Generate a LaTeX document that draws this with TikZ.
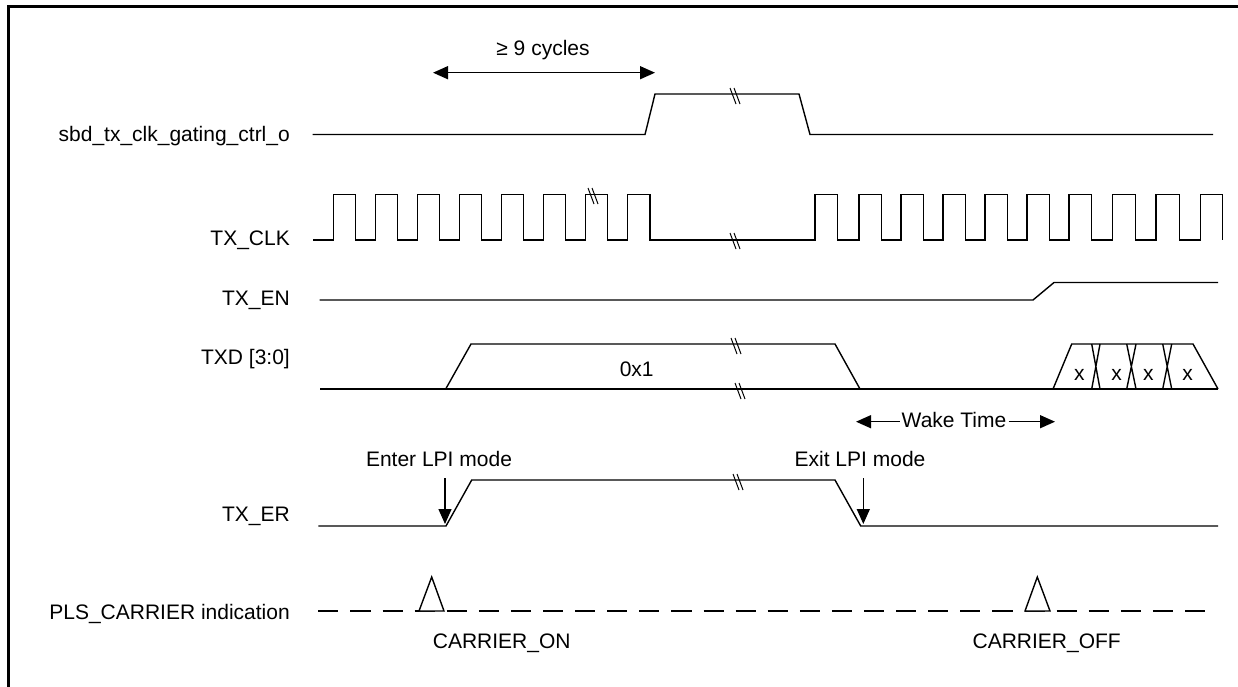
\documentclass[tikz,border=0pt]{standalone}
\usepackage{fontspec}
\setmainfont{Liberation Sans}
\usetikzlibrary{arrows.meta}
\begin{document}
\begin{tikzpicture}[x=1pt,y=-1pt,
  sig/.style={line width=1.4pt, line join=miter},
  lbl/.style={anchor=base east, inner sep=0pt, font=\fontsize{21}{25}\selectfont},
  txt/.style={anchor=base, inner sep=0pt, font=\fontsize{21}{25}\selectfont},
  tip/.style={Triangle[length=15pt,width=13pt]},
  arr/.style={line width=1.4pt, -{Triangle[length=15pt,width=13pt]}},
  brkmark/.pic={\draw[line width=1pt] (-5,-8) -- (1,8); \draw[line width=1pt] (-1,-8) -- (5,8);}
]
\useasboundingbox (0,0) rectangle (1238,686);
% frame
\draw[line width=2.5pt, line join=miter] (8.3,700) -- (8.3,6.5) -- (1250,6.5);

% labels
\node[lbl] (lsbd) at (290,141) {sbd\_tx\_clk\_gating\_ctrl\_o};
\node[lbl] (lclk) at (290,245) {TX\_CLK};
\node[lbl] (len)  at (290,305) {TX\_EN};
\node[lbl] (ltxd) at (290,364) {TXD [3:0]};
\node[lbl] (ler)  at (290,521) {TX\_ER};
\node[lbl] (lpls) at (290,619) {PLS\_CARRIER indication};

% >= 9 cycles
\node[txt] (cyc) at (543,55) {≥ 9 cycles};
\coordinate (c1) at (433,72.7);
\coordinate (c2) at (655,72.7);
\draw[line width=1.4pt, {Triangle[length=15pt,width=13pt]}-{Triangle[length=15pt,width=13pt]}] (c1) -- (c2);

% sbd_tx_clk_gating_ctrl_o
\draw[sig] (312.5,134.5) -- (645,134.5) -- (655,94) -- (799,94) -- (810,134.5) -- (1213,134.5);
\pic at (735,96) {brkmark};

% TX_CLK
\draw[sig] (313,240)
  foreach \a/\b in {333.3/355.7, 375.3/397.3, 417.3/439.3, 459.3/481.7, 501.3/523.7,
                    543.3/565.7, 585.7/607.3, 627.7/650, 815/837.7, 859/881.7,
                    901/923.7, 943/965.7, 985/1007.7, 1027/1049.7, 1069/1091.7,
                    1112.7/1135.7, 1156/1179.3, 1200.3/1222.7}
  { -- (\a,240) -- (\a,194.5) -- (\b,194.5) -- (\b,240) };
\pic at (593,196) {brkmark};
\pic at (735,241) {brkmark};

% TX_EN
\draw[sig] (319.5,300) -- (1033,300) -- (1054,282.5) -- (1218,282.5);

% TXD [3:0]
\draw[sig] (320,389) -- (1218,389);
\draw[sig] (445.7,389) -- (471,344) -- (835,344) -- (860,389);
\node[txt] (v01) at (636.7,376) {0x1};
\pic at (736,346) {brkmark};
\pic at (740,391) {brkmark};
\draw[sig] (1053,389) -- (1071.7,344) -- (1193,344) -- (1218,389);
\draw[sig] (1091.7,344) -- (1100,389) (1100,344) -- (1091.7,389);
\draw[sig] (1126.7,344) -- (1136,389) (1136,344) -- (1126.7,389);
\draw[sig] (1162.7,344) -- (1171.7,389) (1171.7,344) -- (1162.7,389);
\node[txt] (x1) at (1079.3,380) {x};
\node[txt] (x2) at (1116.7,380) {x};
\node[txt] (x3) at (1148.3,380) {x};
\node[txt] (x4) at (1187.7,380) {x};

% Wake Time
\node[inner sep=2pt, font=\fontsize{21}{25}\selectfont] (wake) at (954,420) {Wake Time};
\coordinate (wl) at (856,421.7);
\coordinate (wr) at (1055,421.7);
\draw[arr] (wake.west |- wl) -- (wl);
\draw[arr] (wake.east |- wr) -- (wr);

% TX_ER
\node[txt] (enter) at (439,466.7) {Enter LPI mode};
\node[txt] (exit) at (860,466.7) {Exit LPI mode};
\coordinate (ea) at (445,478);
\coordinate (eb) at (445,524);
\coordinate (xa) at (863.3,478);
\coordinate (xb) at (863.3,524);
\draw[arr] (ea) -- (eb);
\draw[arr] (xa) -- (xb);
\draw[sig] (318.3,526) -- (446,526) -- (471.7,480) -- (835,480) -- (860.7,526) -- (1218,526);
\pic at (738,482) {brkmark};

% PLS_CARRIER indication
\draw[line width=1.4pt, dash pattern=on 20.1pt off 12pt] (318.3,611) -- (1206,611);
\draw[sig, fill=white] (419,611) -- (431.7,577) -- (444,611) -- cycle;
\draw[sig, fill=white] (1025,611) -- (1037.3,577) -- (1050,611) -- cycle;
\node[txt] (con) at (501.7,648.3) {CARRIER\_ON};
\node[txt] (coff) at (1046.7,648.3) {CARRIER\_OFF};
\end{tikzpicture}
\end{document}
